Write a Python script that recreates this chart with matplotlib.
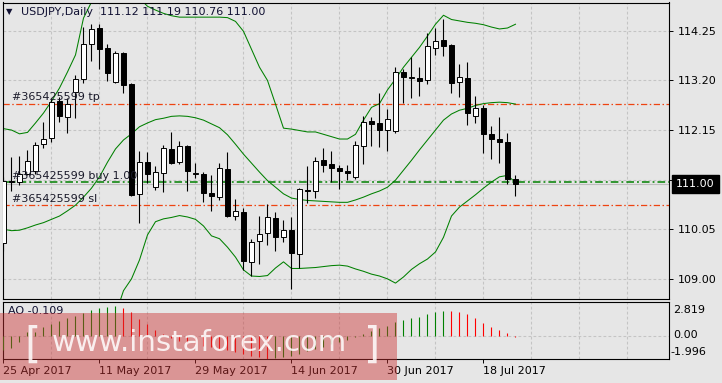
import matplotlib.pyplot as plt
import matplotlib.patches as mpatches
import numpy as np

# USDJPY daily bars, 25 Apr 2017 .. 24 Jul 2017
opens = [109.75, 111.05, 111.04, 111.23, 111.29, 111.85, 111.99, 112.77, 112.43, 112.96,
         113.24, 113.98, 114.30, 113.88, 113.16, 113.79, 113.12, 110.79, 111.47, 110.95,
         111.25, 111.74, 111.47, 111.81, 111.23, 111.22, 110.81, 110.73, 111.32, 110.33,
         110.41, 109.35, 109.80, 109.97, 110.28, 109.89, 110.04, 109.52, 110.88, 110.87,
         111.52, 111.43, 111.35, 111.28, 111.16, 111.82, 112.34, 112.29, 112.16, 112.12,
         113.37, 113.26, 113.26, 113.22, 113.88, 114.05, 113.95, 113.16, 113.26, 112.45,
         112.61, 112.06, 111.95, 111.89, 111.12]
highs = [111.16, 111.59, 111.61, 111.73, 111.90, 112.31, 112.82, 112.86, 112.82, 113.31,
         114.34, 114.39, 114.39, 113.98, 113.83, 113.81, 113.15, 111.71, 111.68, 111.39,
         111.83, 112.10, 111.92, 111.83, 111.45, 111.27, 111.20, 111.45, 111.68, 110.68,
         110.49, 109.85, 110.34, 110.58, 110.42, 110.25, 110.32, 110.93, 111.39, 111.59,
         111.78, 111.71, 111.42, 111.41, 111.92, 112.45, 112.43, 112.93, 112.59, 113.48,
         113.45, 113.69, 113.48, 114.21, 114.30, 114.51, 113.98, 113.55, 113.58, 112.87,
         112.69, 112.24, 112.42, 112.08, 111.19]
lows = [109.58, 110.85, 110.99, 111.20, 111.23, 111.76, 111.90, 112.31, 112.08, 112.40,
        113.14, 113.62, 113.45, 113.19, 113.14, 112.93, 110.76, 110.19, 111.02, 110.88,
        110.83, 111.43, 111.43, 110.85, 111.13, 110.63, 110.44, 110.66, 110.30, 110.25,
        109.18, 109.05, 109.32, 109.72, 109.60, 109.77, 108.78, 109.22, 110.61, 110.71,
        111.26, 111.04, 110.90, 111.09, 111.11, 111.43, 111.81, 111.80, 111.71, 112.09,
        112.73, 112.82, 112.87, 113.12, 113.74, 113.72, 112.93, 112.86, 112.26, 112.29,
        111.67, 111.54, 111.46, 111.00, 110.76]
closes = [111.08, 111.07, 111.23, 111.50, 111.83, 111.97, 112.75, 112.45, 112.71, 113.24,
          113.98, 114.28, 113.86, 113.36, 113.79, 113.10, 110.78, 111.47, 111.21, 111.27,
          111.76, 111.46, 111.81, 111.29, 111.24, 110.81, 110.75, 111.34, 110.34, 110.44,
          109.37, 109.77, 109.96, 110.30, 109.89, 110.04, 109.54, 110.90, 110.85, 111.49,
          111.41, 111.34, 111.29, 111.25, 111.83, 112.33, 112.28, 112.15, 112.38, 113.37,
          113.28, 113.27, 113.19, 113.93, 114.04, 113.93, 113.15, 113.28, 112.52, 112.62,
          112.06, 111.95, 111.90, 111.11, 111.00]

# Bollinger bands
bb_upper = [112.18, 112.15, 112.07, 112.10, 112.30, 112.51, 112.76, 113.04, 113.38, 113.74,
            114.52, 114.86, 115.11, 115.28, 115.32, 115.20, 115.07, 114.94, 114.77, 114.69,
            114.62, 114.57, 114.54, 114.54, 114.54, 114.54, 114.54, 114.54, 114.53, 114.45,
            114.24, 113.86, 113.48, 113.20, 112.70, 112.19, 112.17, 112.14, 112.11, 112.11,
            112.06, 112.01, 111.96, 111.96, 112.06, 112.36, 112.63, 112.71, 113.00, 113.23,
            113.48, 113.69, 113.90, 114.14, 114.39, 114.58, 114.49, 114.46, 114.43, 114.41,
            114.38, 114.33, 114.29, 114.31, 114.39]
bb_mid = [110.05, 110.02, 110.03, 110.08, 110.14, 110.19, 110.26, 110.33, 110.44, 110.56,
          110.73, 110.92, 111.16, 111.47, 111.75, 111.94, 112.07, 112.22, 112.30, 112.37,
          112.40, 112.44, 112.45, 112.44, 112.41, 112.36, 112.28, 112.20, 112.05, 111.85,
          111.64, 111.45, 111.26, 111.08, 110.94, 110.80, 110.71, 110.68, 110.66, 110.65,
          110.64, 110.63, 110.62, 110.62, 110.67, 110.73, 110.80, 110.86, 110.94, 111.09,
          111.30, 111.51, 111.73, 111.94, 112.15, 112.36, 112.49, 112.57, 112.61, 112.67,
          112.71, 112.73, 112.74, 112.73, 112.70]
bb_lower = [107.92, 107.90, 108.00, 108.05, 107.98, 107.88, 107.75, 107.62, 107.50, 107.39,
            107.18, 107.03, 107.18, 107.60, 108.24, 108.75, 109.00, 109.40, 109.93, 110.21,
            110.27, 110.30, 110.34, 110.31, 110.26, 110.12, 109.91, 109.85, 109.67, 109.46,
            109.19, 109.06, 109.05, 109.07, 109.23, 109.36, 109.22, 109.22, 109.23, 109.24,
            109.26, 109.28, 109.29, 109.27, 109.21, 109.16, 109.10, 109.06, 109.00, 108.91,
            109.04, 109.20, 109.32, 109.42, 109.57, 109.88, 110.33, 110.52, 110.65, 110.78,
            110.92, 111.05, 111.16, 111.19, 111.04]

# Awesome Oscillator
ao = [-1.23, -1.03, -0.52, 0.29, 0.34, 0.72, 0.97, 1.26, 1.49, 1.69,
      1.92, 2.21, 2.35, 2.44, 2.55, 2.41, 2.01, 1.41, 0.97, 0.49,
      0.11, -0.20, -0.45, -0.62, -0.75, -0.85, -0.98, -1.10, -1.22, -1.40,
      -1.55, -1.72, -1.85, -1.99, -1.90, -1.80, -1.72, -1.55, -1.35, -1.15,
      -0.95, -0.75, -0.55, -0.35, -0.12, 0.11, 0.40, 0.63, 0.83, 1.15,
      1.35, 1.49, 1.61, 1.86, 2.06, 2.12, 2.11, 2.06, 1.83, 1.49,
      1.06, 0.72, 0.49, 0.26, -0.109]

date_pos = [0, 12, 24, 36, 48, 60]
date_labels = ['25 Apr 2017', '11 May 2017', '29 May 2017', '14 Jun 2017', '30 Jun 2017', '18 Jul 2017']
price_ticks = [109.00, 110.05, 111.10, 112.15, 113.20, 114.25]
tp_level = 112.71
buy_level = 111.04
sl_level = 110.56
last_price = 111.00
order = '#365425599'

bg = '#e6e6e6'
grid_col = '#c4c4c4'
W, H = 722, 383

fig = plt.figure(figsize=(W / 100, H / 100), dpi=100, facecolor=bg)
ax = fig.add_axes([2.5 / W, 1 - 298.7 / H, 666.5 / W, 296.2 / H], facecolor=bg)
ax2 = fig.add_axes([2.5 / W, 1 - 359 / H, 666.5 / W, 57.5 / H], facecolor=bg)

x = np.arange(len(closes))
o = np.array(opens)
c = np.array(closes)

# bollinger bands
for band in (bb_upper, bb_mid, bb_lower):
    ax.plot(x, band, color='#008000', lw=0.75, zorder=2)

# candles
ax.vlines(x, lows, highs, color='black', lw=0.8, zorder=3)
up = c >= o
ax.bar(x, np.abs(c - o), bottom=np.minimum(o, c), width=0.6,
       color=np.where(up, 'white', 'black'), edgecolor='black', lw=0.7, zorder=4)

# order lines
ax.axhline(last_price, color='#bdbdbd', lw=0.8, zorder=1.5)
ax.axhline(tp_level, color='#ee4411', lw=0.9, dashes=(5, 2, 1.2, 2), zorder=1.6)
ax.axhline(sl_level, color='#ee4411', lw=0.9, dashes=(5, 2, 1.2, 2), zorder=1.6)
ax.axhline(buy_level, color='#008000', lw=1.1, dashes=(5, 2, 1.2, 2), zorder=1.6)
for lvl, txt in [(tp_level, order + ' tp'), (buy_level, order + ' buy 1.00'), (sl_level, order + ' sl')]:
    ax.annotate(txt, xy=(0.0143, lvl), xycoords=ax.get_yaxis_transform(), xytext=(0, 1.5),
                textcoords='offset pixels', va='bottom', ha='left', fontsize=8, color='#1a1a2a', zorder=5)

ax.set_xlim(-0.125, 83.19)
ax.set_ylim(108.58, 114.85)
ax.set_xticks(np.arange(0, 84, 6))
ax.tick_params(axis='x', length=0, labelbottom=False)
ax.set_yticks(price_ticks)
# 111.10 sits under the last-price tag in the terminal, so its label is hidden
ax.set_yticklabels(['' if abs(p - 111.10) < 1e-6 else '%.2f' % p for p in price_ticks])
ax.yaxis.tick_right()
ax.tick_params(axis='y', direction='out', length=3, width=0.7, pad=3, labelsize=8, colors='black')
ax.grid(True, color=grid_col, lw=0.8, dashes=(2.5, 2))
for s in ax.spines.values():
    s.set_linewidth(0.8)

# last price tag
ax.annotate('%.2f' % last_price, xy=(1, last_price), xycoords=ax.get_yaxis_transform(),
            xytext=(7, 0), textcoords='offset pixels', va='center', ha='left', fontsize=8,
            color='white', annotation_clip=False, zorder=6,
            bbox=dict(boxstyle='square,pad=0.35', fc='black', ec='black'))

fig.text(0.0085, 1 - 12 / H, '\u25bc', fontsize=6, va='center', ha='left', color='#111133')
fig.text(21 / W, 1 - 12 / H, 'USDJPY,Daily', fontsize=8, va='center', ha='left', color='#111133')
fig.text(100 / W, 1 - 12 / H, '111.12 111.19 110.76 111.00', fontsize=8, va='center', ha='left', color='#111133')

# AO window
ao_arr = np.array(ao)
rising = np.r_[True, ao_arr[1:] > ao_arr[:-1]]
ax2.vlines(x, 0, ao_arr, colors=np.where(rising, '#008000', '#ff0000'), lw=0.8, zorder=3)
ax2.axhline(0, color=grid_col, lw=0.8, dashes=(2.5, 2), zorder=1)
ax2.set_xlim(-0.125, 83.19)
ax2.set_ylim(-2.0, 2.94)
ax2.set_xticks(date_pos)
ax2.set_xticklabels(date_labels, ha='left')
ax2.set_xticks(np.arange(0, 84, 6), minor=True)
ax2.tick_params(axis='x', which='major', direction='out', length=3, width=0.7, pad=2, labelsize=8)
ax2.tick_params(axis='x', which='minor', length=0)
ax2.grid(True, which='minor', axis='x', color=grid_col, lw=0.8, dashes=(2.5, 2))
ax2.set_yticks([])
for s in ax2.spines.values():
    s.set_linewidth(0.8)
ax2.text(0.008, 0.83, 'AO -0.109', transform=ax2.transAxes, fontsize=8, va='center', ha='left', color='#111133')
for fy, txt in [(0.85, '2.819'), (0.41, '0.00'), (0.13, '-1.996')]:
    ax2.text(1.0 + 4 / 666.5 + (0 if txt[0] != '-' else -3 / 666.5), fy, txt, transform=ax2.transAxes,
             fontsize=8, va='center', ha='left', color='black', clip_on=False)

# watermark
fig.add_artist(mpatches.Rectangle((0, 1 - 380 / H), 397 / W, 67 / H, transform=fig.transFigure,
                                  fc='#cc3333', ec='none', alpha=0.45, zorder=10))
fig.text(24 / W, 1 - 346 / H, '[', fontsize=30, color='white', alpha=0.85, va='center', ha='left', zorder=11)
fig.text(52 / W, 1 - 343 / H, 'www.instaforex.com', fontsize=21, color='white', alpha=0.85,
         va='center', ha='left', zorder=11)
fig.text(364 / W, 1 - 346 / H, ']', fontsize=30, color='white', alpha=0.85, va='center', ha='left', zorder=11)

fig.savefig('out.png', dpi=100, facecolor=bg)
